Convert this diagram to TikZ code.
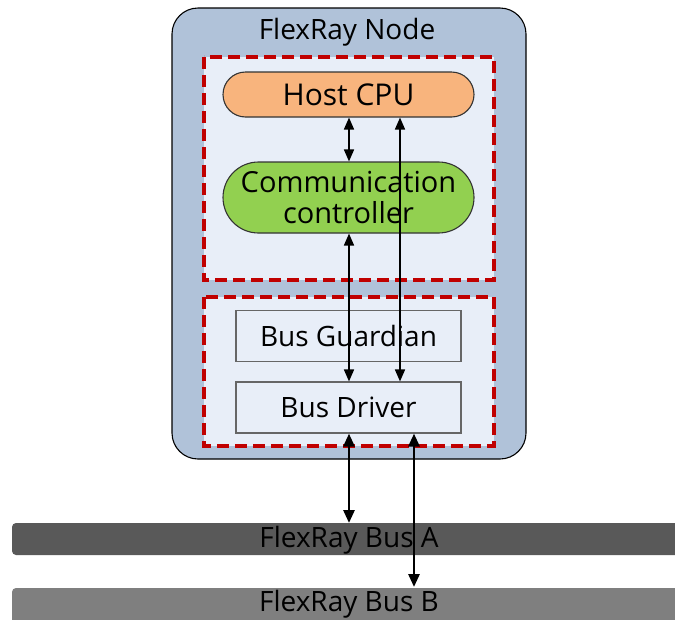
\documentclass[tikz,border=0pt]{standalone}
\usepackage{fontspec}
\setmainfont{Open Sans}
\usetikzlibrary{arrows.meta,shapes.misc}
\definecolor{nodebg}{HTML}{B0C2D9}
\definecolor{inbg}{HTML}{E8EEF8}
\definecolor{dashred}{HTML}{C00000}
\definecolor{cpuor}{HTML}{F8B47D}
\definecolor{ccgreen}{HTML}{92D050}
\definecolor{busa}{HTML}{595959}
\definecolor{busb}{HTML}{7F7F7F}
\tikzset{
  grp/.style={draw=dashred, line width=3.4pt, dash pattern=on 12pt off 6pt, fill=inbg},
  pill/.style={draw=black!80, line width=1.1pt, rounded rectangle, minimum width=251pt, align=center, inner sep=0pt},
  blk/.style={draw=black!60, line width=1.1pt, fill=inbg, minimum width=225pt, minimum height=51pt, inner sep=0pt},
  bia/.style={{Triangle[length=12pt,width=10pt]}-{Triangle[length=12pt,width=10pt]}, line width=1.6pt},
  bib/.style={{Triangle[length=13pt,width=11pt]}-{Triangle[length=13pt,width=11pt]}, line width=2.8pt},
  bus/.style={rounded corners=4pt, draw=none},
  txt/.style={font=\fontsize{28}{32}\selectfont}
}
\begin{document}
\begin{tikzpicture}[x=1pt,y=-1pt]
\useasboundingbox (0,0) rectangle (675,619);
\clip (0,0) rectangle (675,619);
% outer node
\draw[fill=nodebg, draw=black, line width=1.1pt, rounded corners=26pt] (172,8) rectangle (526,459);
\node[txt] (title) at (347,32) {FlexRay Node};
% groups
\draw[grp] (204,57) rectangle (494,280);
\draw[grp] (204,297) rectangle (494,446);
% blocks
\node[pill, fill=cpuor, minimum height=45pt, font=\fontsize{30}{34}\selectfont] (host) at (348.5,94.5) {Host CPU};
\node[pill, fill=ccgreen, minimum height=71pt, font=\fontsize{29}{33}\selectfont] (cc) at (348.5,197.5) {Communication\\[-2pt]controller};
\node[blk, txt] (bg) at (348.5,336) {Bus Guardian};
\node[blk, txt] (bd) at (348.5,407.5) {Bus Driver};
% buses
\draw[bus, fill=busa] (12,523) rectangle (700,555);
\node[txt] (busA) at (349,540) {FlexRay Bus A};
\draw[bus, fill=busb] (12,588) rectangle (700,625);
\node[txt] (busB) at (349,604) {FlexRay Bus B};
\coordinate (xa) at (349,0);
\coordinate (xb) at (400,0);
\coordinate (xc) at (414,0);
\coordinate (busAtop) at (349,523);
\coordinate (busBtop) at (414,587);
% connectors
\draw[bia] (host.south -| xa) -- (cc.north -| xa);
\draw[bia] (cc.south -| xa) -- (bd.north -| xa);
\draw[bia] (host.south -| xb) -- (bd.north -| xb);
\draw[bib] (bd.south -| xa) -- (busAtop);
\draw[bib] (bd.south -| xc) -- (busBtop);
\end{tikzpicture}
\end{document}
